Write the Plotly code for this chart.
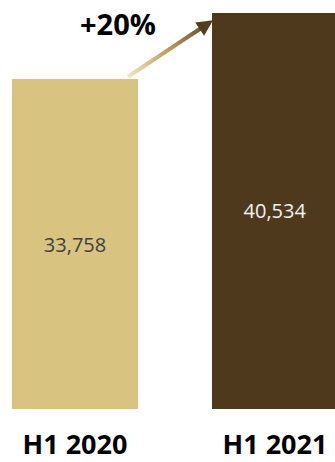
import plotly.graph_objects as go

# Half-year totals
periods = ["H1 2020", "H1 2021"]
totals = [33758, 40534]
growth_label = "+20%"

bar_colors = ["#D9C381", "#4E391C"]
label_colors = ["#404040", "#F2F2F2"]

BAR_WIDTH = 0.63
half = BAR_WIDTH / 2

fig = go.Figure()
fig.add_trace(go.Bar(
    x=[0, 1],
    y=totals,
    width=BAR_WIDTH,
    marker=dict(color=bar_colors, line=dict(width=0)),
    texttemplate="%{y:,}",
    textposition="inside",
    insidetextanchor="middle",
    textfont=dict(family="Open Sans", size=20, color=label_colors),
    hoverinfo="skip",
))

# Growth arrow: from just above the first bar's top-right corner
# to the top-left corner of the second bar, shaded light -> dark.
x0, y0 = 0 + half - 0.05, totals[0] + 250
x1, y1 = 1 - half + 0.005, totals[1] - 750


def mix(c0, c1, t):
    return "rgb({},{},{})".format(*[round(a + (b - a) * t) for a, b in zip(c0, c1)])


stops = [(0.0, (240, 231, 196)), (0.45, (190, 160, 95)), (1.0, (84, 62, 30))]


def grad(t):
    for (ta, ca), (tb, cb) in zip(stops[:-1], stops[1:]):
        if t <= tb:
            return mix(ca, cb, (t - ta) / (tb - ta))
    return mix(stops[-1][1], stops[-1][1], 0)


N = 40
shapes = []
end_frac = 0.88
for i in range(N):
    ta = i / N * end_frac
    tb = (i + 1) / N * end_frac + 0.004
    shapes.append(dict(
        type="line", xref="x", yref="y",
        x0=x0 + (x1 - x0) * ta, y0=y0 + (y1 - y0) * ta,
        x1=x0 + (x1 - x0) * tb, y1=y0 + (y1 - y0) * tb,
        line=dict(color=grad((ta + tb) / 2), width=4),
        layer="above",
    ))

fig.update_layout(
    width=335, height=462,
    margin=dict(l=0, r=0, t=0, b=50),
    paper_bgcolor="white", plot_bgcolor="white",
    showlegend=False,
    shapes=shapes,
    xaxis=dict(
        range=[-0.375, 1.3],
        tickmode="array", tickvals=[0, 1], ticktext=periods,
        tickfont=dict(family="Open Sans", size=27, color="#000000", weight="bold"),
        showgrid=False, zeroline=False, showline=False, ticks="",
        ticklabelstandoff=17,
        fixedrange=True,
    ),
    yaxis=dict(
        range=[0, totals[1] * 412 / 399],
        visible=False, showgrid=False, zeroline=False,
        fixedrange=True,
    ),
    annotations=[
        dict(
            xref="x", yref="y", axref="x", ayref="y",
            x=x1, y=y1,
            ax=x0 + (x1 - x0) * (end_frac - 0.02), ay=y0 + (y1 - y0) * (end_frac - 0.02),
            text="", showarrow=True,
            arrowhead=2, arrowsize=0.8, arrowwidth=4,
            arrowcolor="rgb(84,62,30)", standoff=0,
        ),
        dict(
            xref="x", yref="y",
            x=0.215, y=totals[1] * (412 - 24) / 399,
            text="<b>" + growth_label + "</b>", showarrow=False,
            font=dict(family="Open Sans", size=29, color="#000000"),
            xanchor="center", yanchor="middle",
        ),
    ],
)

fig.write_html("out.html")
